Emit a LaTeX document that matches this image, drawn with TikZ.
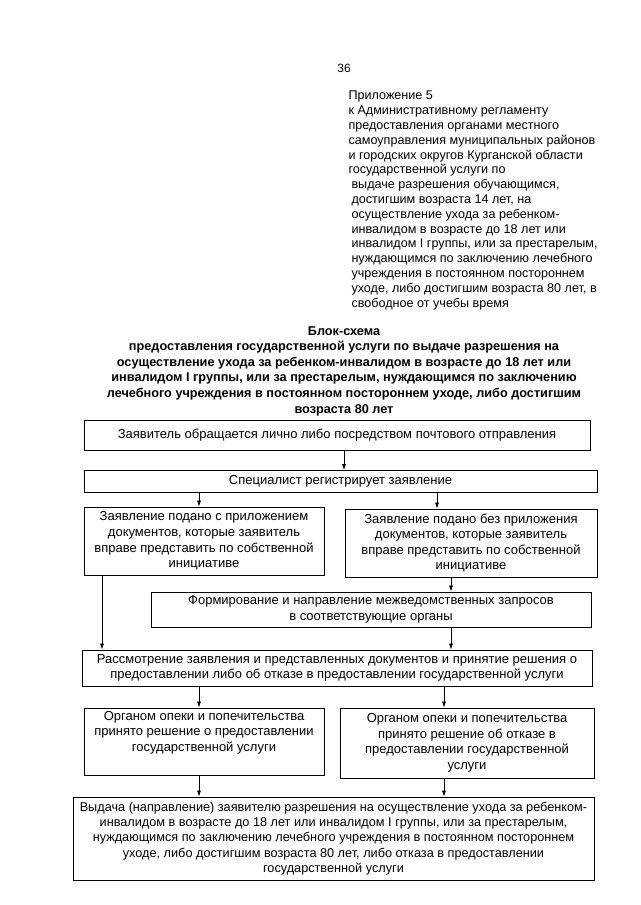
\documentclass[tikz,border=0pt]{standalone}
\usepackage{fontspec}
\setmainfont{Liberation Sans}
\usetikzlibrary{arrows.meta, calc}
\tikzset{
    caixa/.style={draw=black, line width=0.8pt, align=center, inner sep=2pt,
        font=\fontsize{13}{15.6}\selectfont},
    seta/.style={-{Latex[length=6pt,width=4pt]}, line width=0.7pt},
    titulo/.style={font=\bfseries\fontsize{12.7}{15.6}\selectfont, align=center}
}
\begin{document}
\begin{tikzpicture}[x=1pt, y=-1pt]
    \useasboundingbox (0,0) rectangle (640,905);
    % Cabeçalho da página
    \node (pagina) at (344,68) {\fontsize{12}{14}\selectfont 36};
    \node[anchor=west, align=left, font=\fontsize{12.6}{14.8}\selectfont] (anexo) at (345,200.5)
        {Приложение 5\\
         к Административному регламенту\\
         предоставления органами местного\\
         самоуправления муниципальных районов\\
         и городских округов Курганской области\\
         государственной услуги по\\
         \hspace*{3pt}выдаче разрешения обучающимся,\\
         \hspace*{3pt}достигшим возраста 14 лет, на\\
         \hspace*{3pt}осуществление ухода за ребенком-\\
         \hspace*{3pt}инвалидом в возрасте до 18 лет или\\
         \hspace*{3pt}инвалидом I группы, или за престарелым,\\
         \hspace*{3pt}нуждающимся по заключению лечебного\\
         \hspace*{3pt}учреждения в постоянном постороннем\\
         \hspace*{3pt}уходе, либо достигшим возраста 80 лет, в\\
         \hspace*{3pt}свободное от учебы время};
    \node[titulo] (titulo) at (344,371)
        {Блок-схема\\
         предоставления государственной услуги по выдаче разрешения на\\
         осуществление ухода за ребенком-инвалидом в возрасте до 18 лет или\\
         инвалидом I группы, или за престарелым, нуждающимся по заключению\\
         лечебного учреждения в постоянном постороннем уходе, либо достигшим\\
         возраста 80 лет};
    % Блоки схемы
    \node[caixa, minimum width=506pt, minimum height=30pt] (solicita) at (337,435)
        {Заявитель обращается лично либо посредством почтового отправления};
    \node[caixa, minimum width=513pt, minimum height=22pt] (registro) at (340.5,481.5)
        {Специалист регистрирует заявление};
    \node[caixa, minimum width=240pt, minimum height=68pt] (comdoc) at (204,541)
        {Заявление подано с приложением\\ документов, которые заявитель\\
         вправе представить по собственной\\ инициативе};
    \node[caixa, minimum width=252pt, minimum height=68pt] (semdoc) at (471,543)
        {Заявление подано без приложения\\ документов, которые заявитель\\
         вправе представить по собственной\\ инициативе};
    \node[caixa, minimum width=440pt, minimum height=35pt] (consulta) at (371,609.5)
        {Формирование и направление межведомственных запросов\\
         в соответствующие органы};
    \node[caixa, minimum width=510pt, minimum height=36pt] (exame) at (337,668)
        {Рассмотрение заявления и представленных документов и принятие решения о\\
         предоставлении либо об отказе в предоставлении государственной услуги};
    \node[caixa, minimum width=240pt, minimum height=67pt] (aprova) at (204,741.5)
        {Органом опеки и попечительства\\ принято решение о предоставлении\\
         государственной услуги\\ \strut};
    \node[caixa, minimum width=254pt, minimum height=70pt] (recusa) at (467,743)
        {Органом опеки и попечительства\\ принято решение об отказе в\\
         предоставлении государственной\\ услуги};
    \node[caixa, minimum width=521pt, minimum height=83pt,
          font=\fontsize{12.7}{15.3}\selectfont] (emissao) at (333.5,838.5)
        {Выдача (направление) заявителю разрешения на осуществление ухода за ребенком-\\
         инвалидом в возрасте до 18 лет или инвалидом I группы, или за престарелым,\\
         нуждающимся по заключению лечебного учреждения в постоянном постороннем\\
         уходе, либо достигшим возраста 80 лет, либо отказа в предоставлении\\
         государственной услуги};
    % Оси стрелок
    \coordinate (eixoA) at (344,0);
    \coordinate (eixoB) at (199,0);
    \coordinate (eixoC) at (437,0);
    \coordinate (eixoD) at (102,0);
    \coordinate (eixoE) at (451,0);
    \coordinate (eixoF) at (444,0);
    % Стрелки
    \draw[seta] (solicita.south -| eixoA) -- (registro.north -| eixoA);
    \draw[seta] (registro.south -| eixoB) -- (comdoc.north -| eixoB);
    \draw[seta] (registro.south -| eixoC) -- (semdoc.north -| eixoC);
    \draw[seta] (comdoc.south -| eixoD) -- (exame.north -| eixoD);
    \draw[seta] (semdoc.south -| eixoE) -- (consulta.north -| eixoE);
    \draw[seta] (consulta.south -| eixoE) -- (exame.north -| eixoE);
    \draw[seta] (exame.south -| eixoB) -- (aprova.north -| eixoB);
    \draw[seta] (exame.south -| eixoF) -- (recusa.north -| eixoF);
    \draw[seta] (aprova.south -| eixoB) -- (emissao.north -| eixoB);
    \draw[seta] (recusa.south -| eixoF) -- (emissao.north -| eixoF);
\end{tikzpicture}
\end{document}
